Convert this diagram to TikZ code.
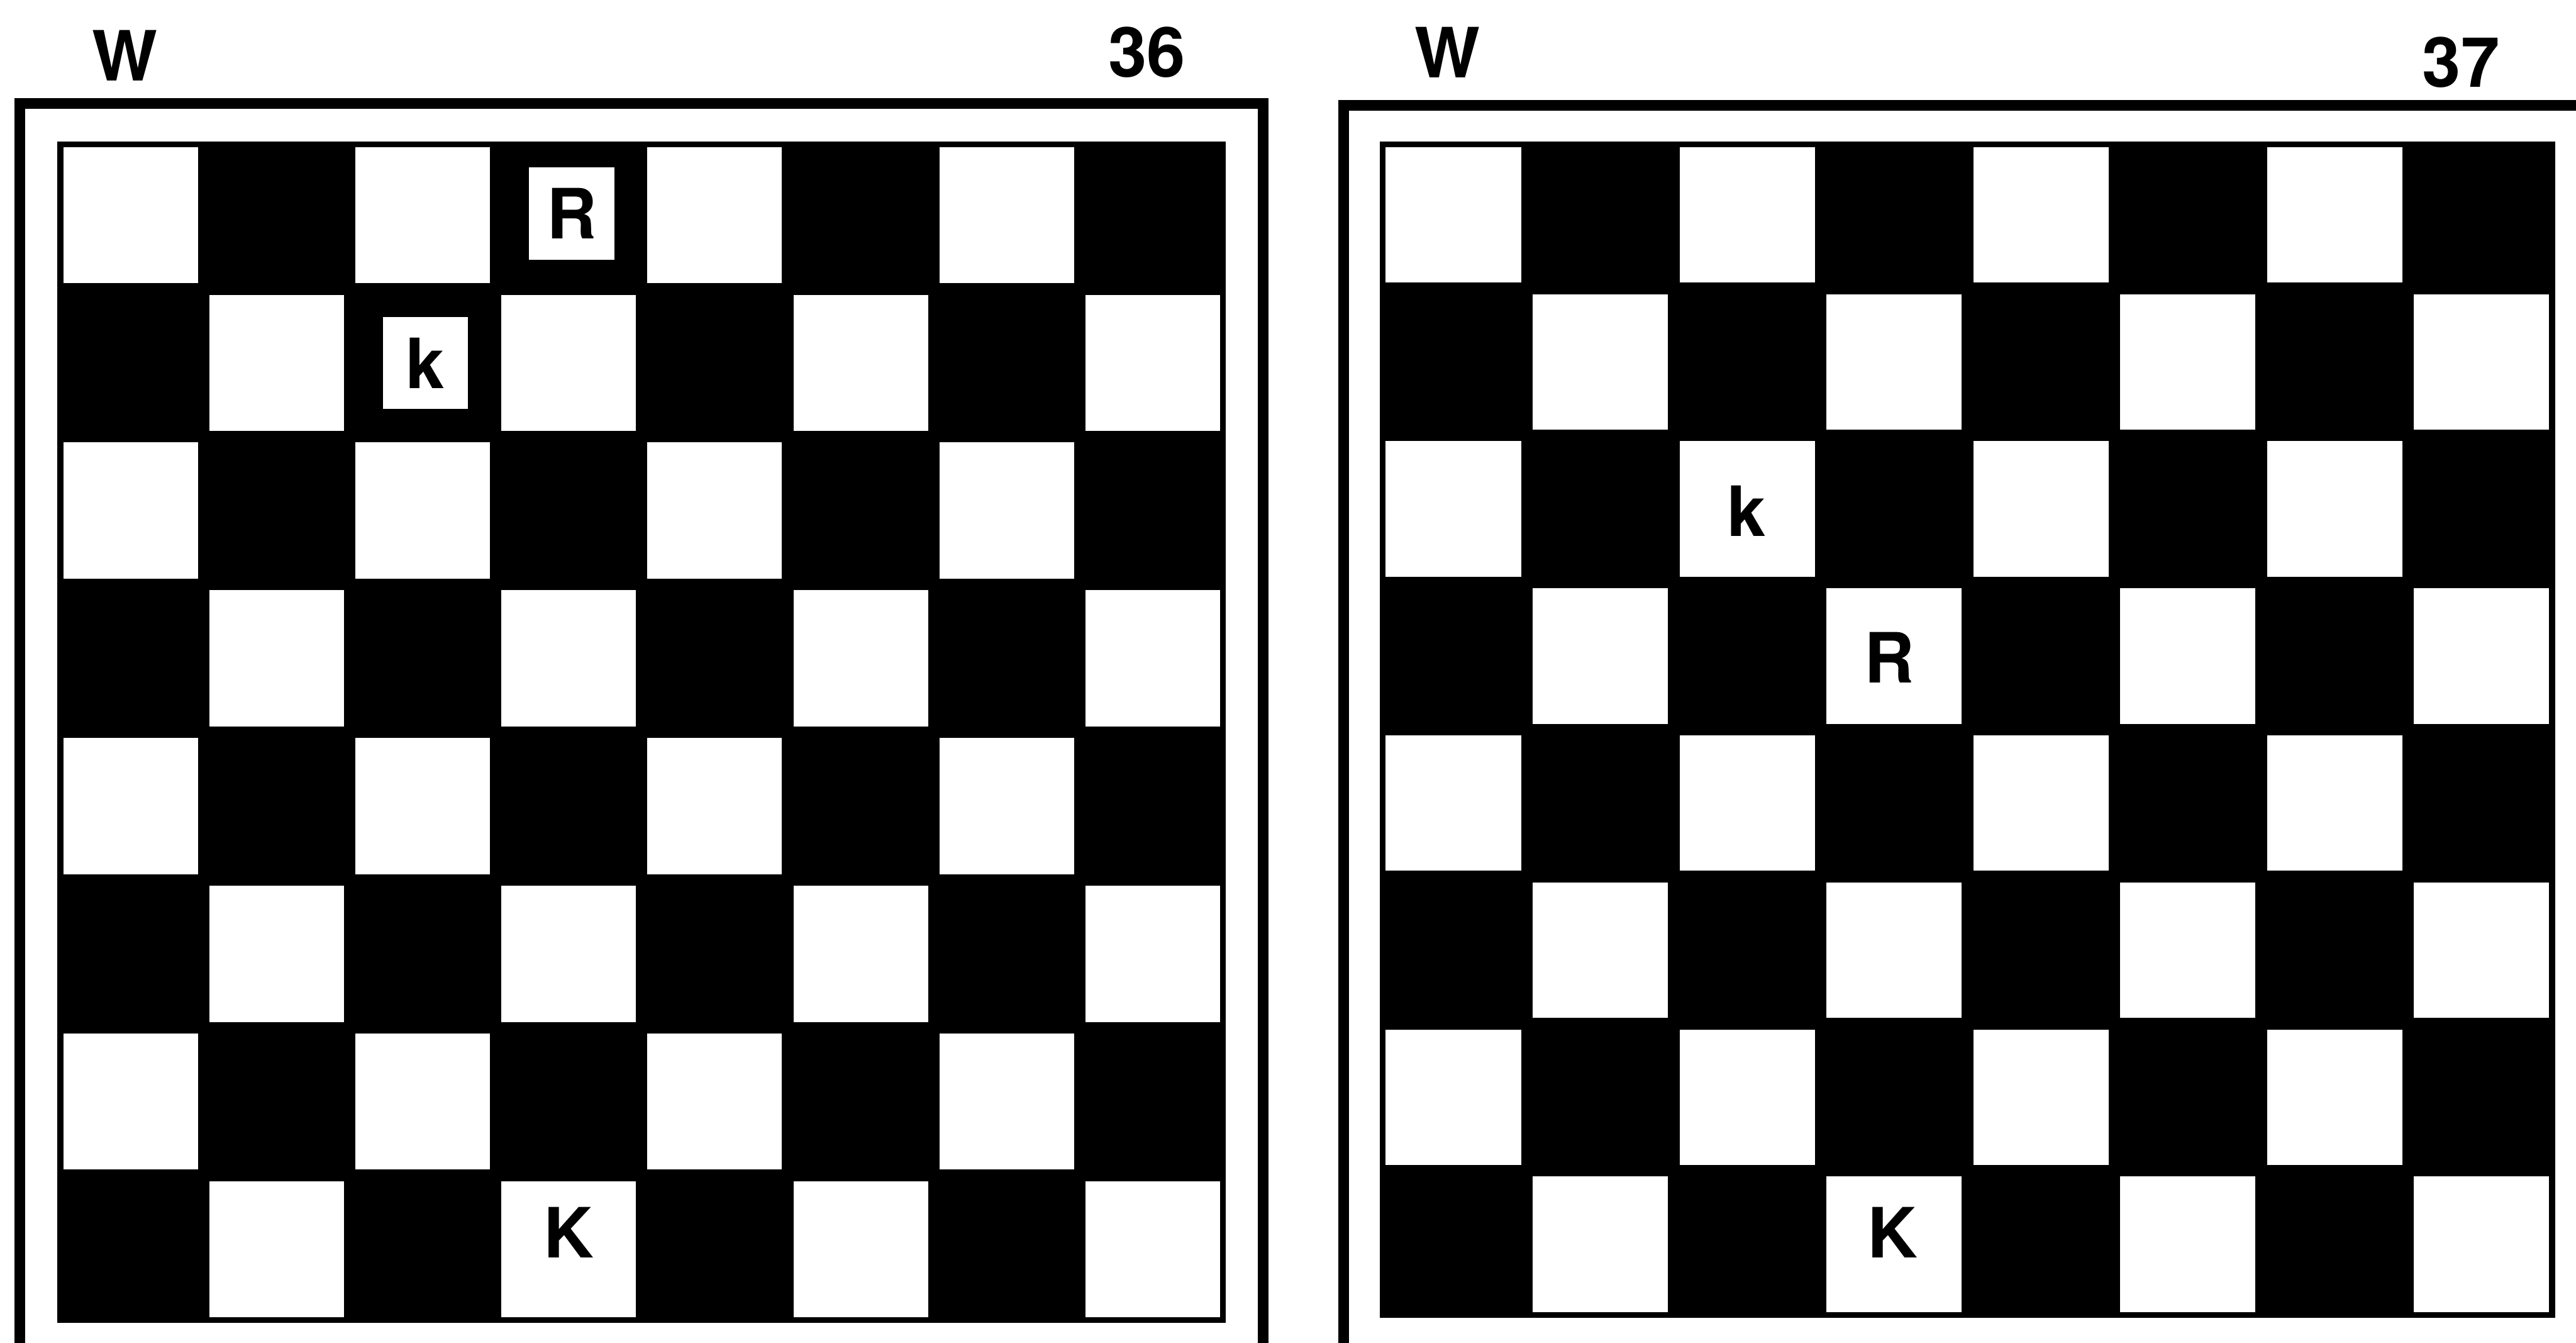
\documentclass[tikz,border=0pt]{standalone}
\usepackage{fontspec}
\setmainfont{TeX Gyre Heros}
\usepackage{tikz}
\usetikzlibrary{positioning}
\definecolor{BoardDark}{HTML}{000000}
\definecolor{BoardLight}{HTML}{FFFFFF}

\begin{document}
\begin{tikzpicture}[x=0.1mm, y=-0.1mm, font=\fontsize{12}{14}\selectfont\bfseries,
    frameline/.style={draw=BoardDark, line width=0.65mm},
    lightsq/.style={fill=BoardLight},
    piecebox/.style={fill=BoardLight, rectangle, inner sep=0pt, minimum width=5.2mm, minimum height=5.6mm},
    piece/.style={inner sep=0pt},
    caption/.style={inner sep=0pt}]
      \useasboundingbox (0,0) rectangle (1568,817);

      % Frames
      \draw[frameline] (12,818) -- (12,63) -- (769,63) -- (769,818);
      \draw[frameline] (818,818) -- (818,64) -- (1570,64);

      % Boards
      \foreach \bx/\by/\px/\py in {35/86/88.9/89.9, 840/86/89.4/89.5} {
        \fill[BoardDark] (\bx,\by) rectangle ++({8*\px},{8*\py});
        \foreach \r in {0,...,7} {
          \foreach \c in {0,...,7} {
            \pgfmathtruncatemacro{\odd}{mod(\r+\c,2)}
            \ifnum\odd=0
              \fill[lightsq] ({\bx+\c*\px+3.5},{\by+\r*\py+3.5}) rectangle ++({\px-7},{\py-7});
            \fi
          }
        }
      }

      % Captions
      \node[caption] (leftW) at (76,34) {W};
      \node[caption] (leftNum) at (698,32) {36};
      \node[caption] (rightW) at (881,32) {W};
      \node[caption] (rightNum) at (1498,38) {37};

      % Pieces
      \node[piecebox] (leftRook) at (348,130) {R};
      \node[piecebox] (leftKing) at (259,221) {k};
      \node[piece] (leftWKing) at (346,750) {K};
      \node[piece] (rightKing) at (1063,311) {k};
      \node[piece] (rightRook) at (1150,400) {R};
      \node[piece] (rightWKing) at (1152,750) {K};
    \end{tikzpicture}
\end{document}
